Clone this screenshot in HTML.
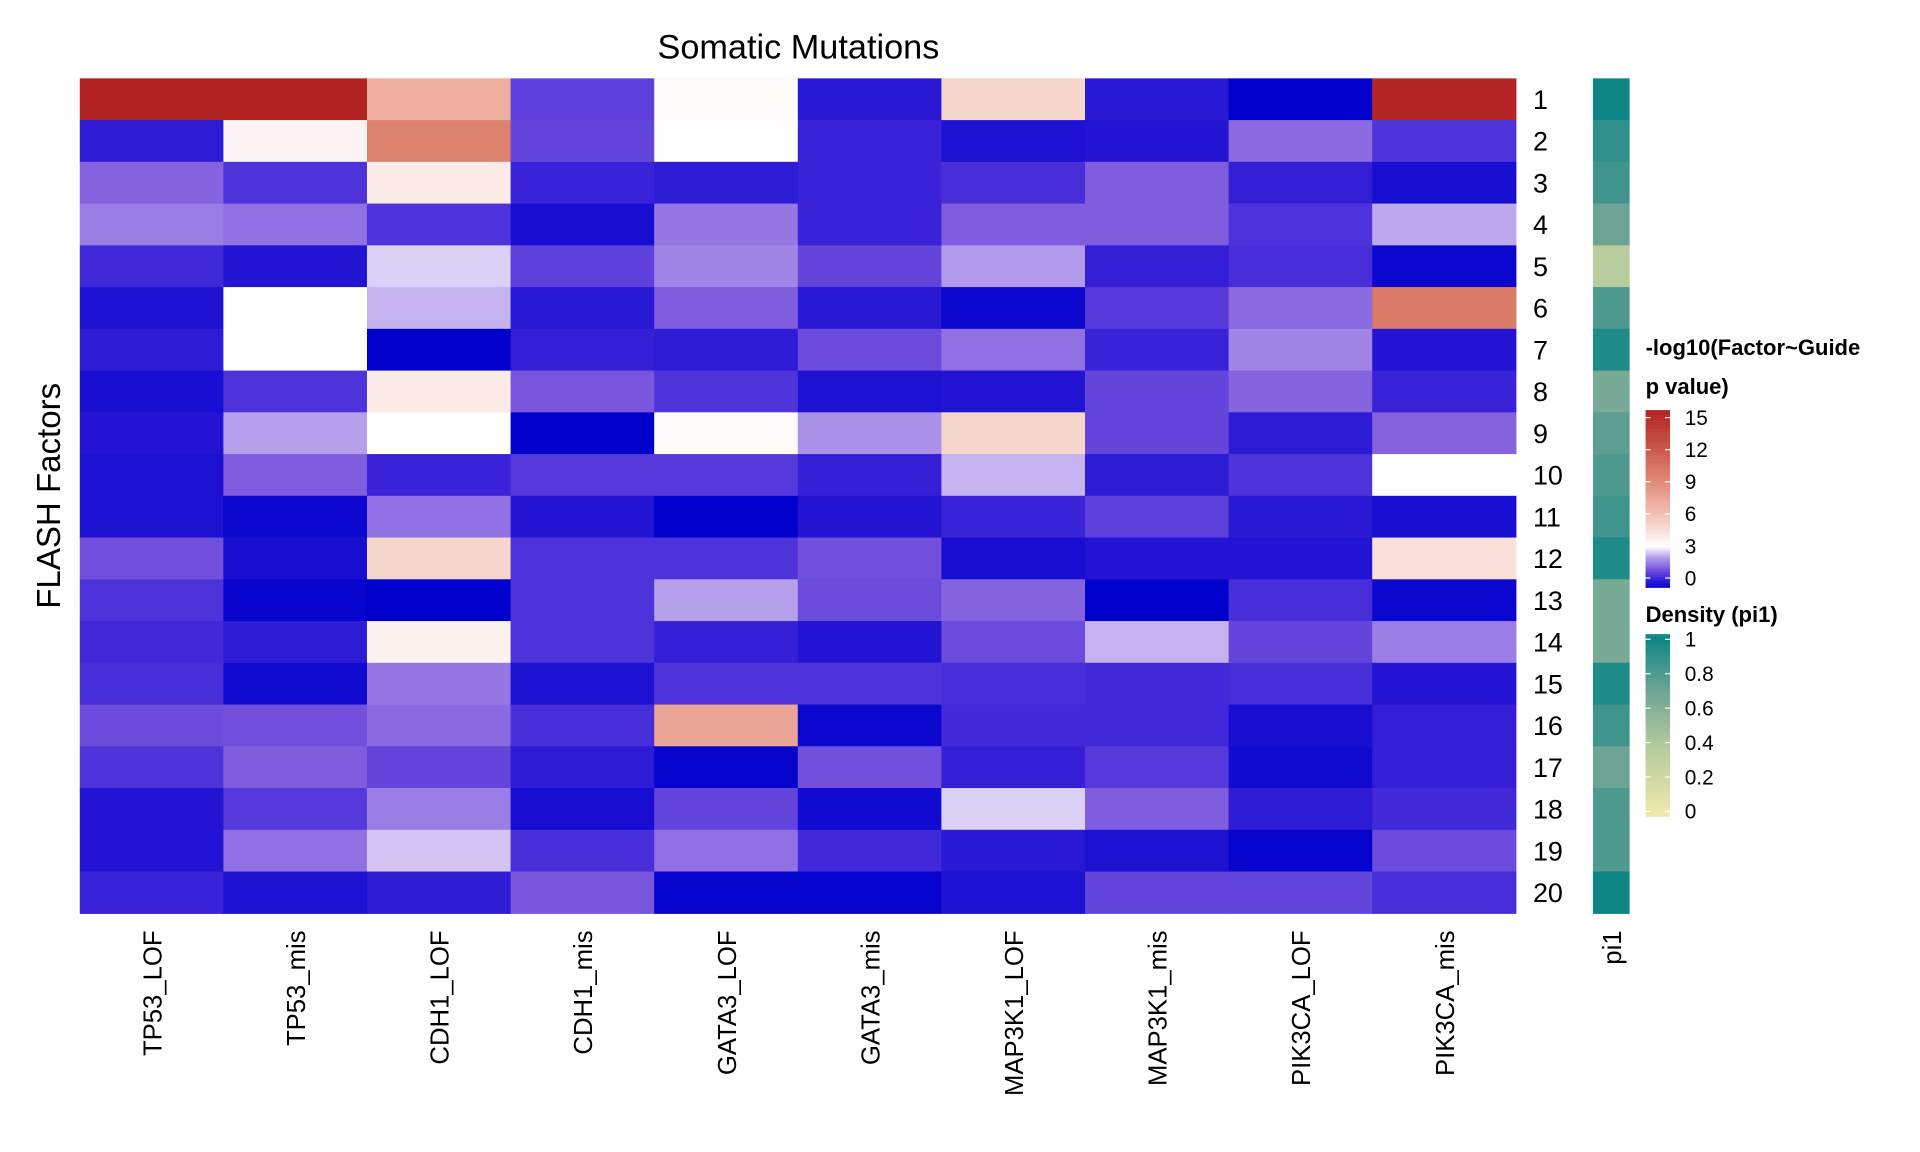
<!DOCTYPE html>
<html><head><meta charset="utf-8"><style>
html,body{margin:0;padding:0;background:#fff;}
svg{display:block;font-family:"Liberation Sans",Arial,sans-serif;}
</style></head><body>
<svg id="chart" width="1920" height="1152" viewBox="0 0 1568 941" xmlns="http://www.w3.org/2000/svg">
<rect width="1568" height="941" fill="#fff"/>
<text x="652" y="48" font-size="28" text-anchor="middle" fill="#000">Somatic Mutations</text>
<text transform="translate(49,405) rotate(-90)" font-size="27" text-anchor="middle" fill="#000">FLASH Factors</text>
<g id="cells"></g>
<g id="pi"></g>
<g id="rowlabels"></g>
<g id="collabels"></g>
<text transform="translate(1324,760) rotate(-90)" font-size="21" text-anchor="end" fill="#000">pi1</text>
<g>
<text x="1344" y="290" font-size="18" font-weight="bold">-log10(Factor~Guide</text>
<text x="1344" y="322" font-size="18" font-weight="bold">p value)</text>
<g id="pleg"></g>
</g>
<g>
<text x="1344" y="508" font-size="18" font-weight="bold">Density (pi1)</text>
<g id="dleg"></g>
</g>
</svg>
<script>
const cols = ["TP53_LOF","TP53_mis","CDH1_LOF","CDH1_mis","GATA3_LOF","GATA3_mis","MAP3K1_LOF","MAP3K1_mis","PIK3CA_LOF","PIK3CA_mis"];
const rows = ["1","2","3","4","5","6","7","8","9","10","11","12","13","14","15","16","17","18","19","20"];
const values = [
[15.7,15.7,7,0.5,3.2,-0.3,5,-0.3,-1,15.5],
[-0.2,3.5,9.5,0.6,3.1,0,-0.5,-0.4,1.2,0.3],
[1.1,0.3,4,0,-0.2,0,0.2,1,-0.1,-0.6],
[1.5,1.3,0.3,-0.6,1.4,0,1,1,0.3,2.1],
[0.1,-0.4,2.5,0.5,1.6,0.6,1.9,-0.1,0.2,-0.8],
[-0.5,3,2.2,-0.3,1,-0.3,-0.8,0.4,1.2,10],
[-0.2,3,-1,-0.1,-0.2,0.7,1.3,0,1.6,-0.4],
[-0.6,0.3,4,0.9,0.3,-0.5,-0.4,0.6,1.1,0],
[-0.4,2,3,-1,3.2,1.8,5,0.6,-0.2,1.1],
[-0.5,1,0,0.4,0.4,-0.1,2.2,-0.2,0.3,3],
[-0.5,-0.8,1.3,-0.4,-1,-0.4,0,0.5,-0.3,-0.6],
[0.8,-0.6,5,0.3,0.3,0.8,-0.6,-0.4,-0.4,4.5],
[0.3,-0.9,-1,0.3,2,0.7,1.1,-1,0.2,-0.8],
[0.1,-0.2,3.6,0.3,-0.1,-0.4,0.7,2.2,0.6,1.5],
[0.2,-0.7,1.4,-0.5,0.3,0.3,0.2,0.1,0.2,-0.4],
[0.7,0.8,1.2,0.2,7.5,-0.8,0.1,0.1,-0.6,-0.1],
[0.3,1,0.6,-0.2,-0.9,0.8,-0.1,0.4,-0.7,-0.1],
[-0.4,0.4,1.5,-0.6,0.6,-0.7,2.5,1,-0.2,0.1],
[-0.4,1.3,2.4,0.2,1.3,0.1,-0.3,-0.5,-0.9,0.7],
[0,-0.5,-0.2,0.9,-0.9,-0.9,-0.5,0.6,0.6,0.2]
];
const pi1 = [1,0.9,0.85,0.7,0.35,0.8,0.95,0.65,0.75,0.8,0.85,0.95,0.65,0.65,0.95,0.85,0.7,0.8,0.8,1];
const pTicks = [0,3,6,9,12,15];
const dTicks = [0,0.2,0.4,0.6,0.8,1];

const pStops = [[-1,[0,0,204]],[0,[58,34,216]],[1,[128,92,222]],[2,[182,160,236]],[3,[255,255,255]],[6,[242,192,180]],[9,[226,138,120]],[12,[204,90,74]],[15.7,[178,34,34]]];
const dStops = [[0,[238,232,170]],[0.4,[176,200,156]],[0.7,[110,164,148]],[1,[15,134,134]]];
function interp(stops,v){
  if(v<=stops[0][0]) return stops[0][1];
  for(let i=1;i<stops.length;i++){ if(v<=stops[i][0]){const a=stops[i-1],b=stops[i];const t=(v-a[0])/(b[0]-a[0]);return a[1].map((c,k)=>Math.round(c+(b[1][k]-c)*t));}}
  return stops[stops.length-1][1];
}
const rgb=c=>`rgb(${c[0]},${c[1]},${c[2]})`;
const NS="http://www.w3.org/2000/svg";
function mk(tag,attrs,parent){const e=document.createElementNS(NS,tag);for(const k in attrs)e.setAttribute(k,attrs[k]);parent.appendChild(e);return e;}
const X0=65,X1=1238,Y0=64,Y1=746;
const cw=(X1-X0)/cols.length, rh=(Y1-Y0)/rows.length;
const xPos=i=>X0+i*cw, yPos=j=>Y0+j*rh;
const gC=document.getElementById('cells');
values.forEach((row,j)=>row.forEach((v,i)=>{
  const r=mk('rect',{x:xPos(i),y:yPos(j),width:cw+0.5,height:rh+0.5,fill:rgb(interp(pStops,v))},gC);
  
  
}));
const gP=document.getElementById('pi');
pi1.forEach((v,j)=>{
  const r=mk('rect',{x:1301,y:yPos(j),width:30,height:rh+0.5,fill:rgb(interp(dStops,v))},gP);
  
  
});
const gR=document.getElementById('rowlabels');
rows.forEach((l,j)=>{
  const t=mk('text',{x:1252,y:yPos(j)+rh/2+8,'font-size':22},gR);t.textContent=l;
  
  
});
const gL=document.getElementById('collabels');
cols.forEach((l,i)=>{
  const t=mk('text',{transform:`translate(${xPos(i)+cw/2+8},760) rotate(-90)`,'font-size':21,'text-anchor':'end'},gL);t.textContent=l;
  
  
});
const gPL=document.getElementById('pleg');
const pTop=335,pBot=480,pMin=-0.9,pMax=15.7;
const pY=v=>pBot-(v-pMin)/(pMax-pMin)*(pBot-pTop);
for(let y=pTop;y<pBot;y++){mk('rect',{x:1344,y:y,width:20,height:1.2,fill:rgb(interp(pStops,pMin+(pBot-y)/(pBot-pTop)*(pMax-pMin)))},gPL);}
pTicks.forEach(v=>{
  const y=pY(v);
  mk('line',{x1:1344,x2:1348,y1:y,y2:y,stroke:'#fff','stroke-width':1},gPL);
  mk('line',{x1:1360,x2:1364,y1:y,y2:y,stroke:'#fff','stroke-width':1},gPL);
  const t=mk('text',{x:1376,y:y+6,'font-size':17},gPL);t.textContent=v;
  
  
});
const gDL=document.getElementById('dleg');
const dTop=518,dBot=667,dMin=-0.03,dMax=1.03;
const dY=v=>dBot-(v-dMin)/(dMax-dMin)*(dBot-dTop);
for(let y=dTop;y<dBot;y++){mk('rect',{x:1344,y:y,width:20,height:1.2,fill:rgb(interp(dStops,dMin+(dBot-y)/(dBot-dTop)*(dMax-dMin)))},gDL);}
dTicks.forEach(v=>{
  const y=dY(v);
  mk('line',{x1:1344,x2:1348,y1:y,y2:y,stroke:'#fff','stroke-width':1},gDL);
  mk('line',{x1:1360,x2:1364,y1:y,y2:y,stroke:'#fff','stroke-width':1},gDL);
  const t=mk('text',{x:1376,y:y+6,'font-size':17},gDL);t.textContent=v;
  
  
});
</script>
</body></html>
